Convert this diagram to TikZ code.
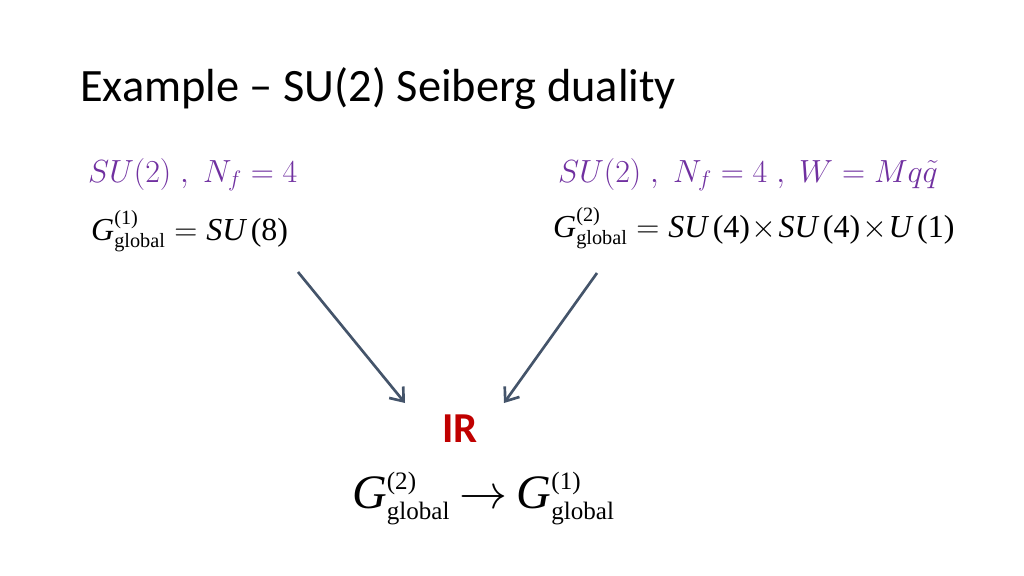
\RequirePackage{fix-cm}
\documentclass[tikz,border=0pt]{standalone}
\usepackage{amsmath}
\usepackage[no-math]{fontspec}
\setmainfont{Carlito}
\newfontfamily\tnr{Liberation Serif}
\usetikzlibrary{arrows.meta}

\definecolor{thpurple}{RGB}{112,48,160}
\definecolor{irred}{RGB}{192,0,0}
\definecolor{flowgray}{RGB}{68,84,106}

% G^{(n)}_{global}, script text at a given size
\newcommand{\Gglob}[2][19]{\text{\tnr\itshape G}%
	^{\text{\fontsize{#1}{#1}\selectfont\tnr(#2)}}%
	_{\text{\fontsize{#1}{#1}\selectfont\tnr global}}}
\newcommand{\tsu}[1]{\text{\tnr\itshape #1}}
\newcommand{\tup}[1]{\text{\tnr #1}}

\begin{document}
\begin{tikzpicture}[x=0.9375pt, y=-0.9375pt,
		title/.style = {anchor = base west, inner sep = 0pt,
		font = \fontsize{43.5}{50}\selectfont},
		theory/.style = {anchor = base west, inner sep = 0pt, text = thpurple,
		font = \fontsize{30}{36}\selectfont},
		group/.style = {anchor = base west, inner sep = 0pt,
		font = \fontsize{30}{36}\selectfont},
		flow/.style = {line width = 2.5pt, draw = flowgray,
		-{Straight Barb[length = 11pt, width = 17pt, line width = 2.5pt]}}]

	\useasboundingbox (0,0) rectangle (1024,576);

	\node [title] (title) at (80,102) {Example -- SU(2) Seiberg duality};

	\node [theory] (th_1) at (88,182) {$SU(2)\;,\;N_f=4$};
	\node [theory] (th_2) at (558,182) {$SU(2)\;,\;N_f=4\;,\;W=Mq\tilde{q}$};

	\node [group] (grp_1) at (91,240) {$\Gglob{1}=\tsu{SU}\,\tup{(8)}$};
	\node [group] (grp_2) at (553,237)
	{$\Gglob{2}=\tsu{SU}\,\tup{(4)}\!\times\!\tsu{SU}\,\tup{(4)}\!\times\!\tsu{U}\,\tup{(1)}$};

	\coordinate (s_1) at (298,272);
	\coordinate (e_1) at (405,403);
	\coordinate (s_2) at (597,273);
	\coordinate (e_2) at (504,403);
	\draw [flow] (s_1) -- (e_1);
	\draw [flow] (s_2) -- (e_2);

	\node [anchor = base west, inner sep = 0pt, text = irred,
	font = \fontsize{40}{46}\selectfont\bfseries] (ir) at (442,442) {IR};

	\node [group, font = \fontsize{45}{52}\selectfont] (flow) at (352,508)
	{$\Gglob[23.5]{2}\mkern-1.5mu\rightarrow\mkern-1.5mu\Gglob[23.5]{1}$};
\end{tikzpicture}
\end{document}
